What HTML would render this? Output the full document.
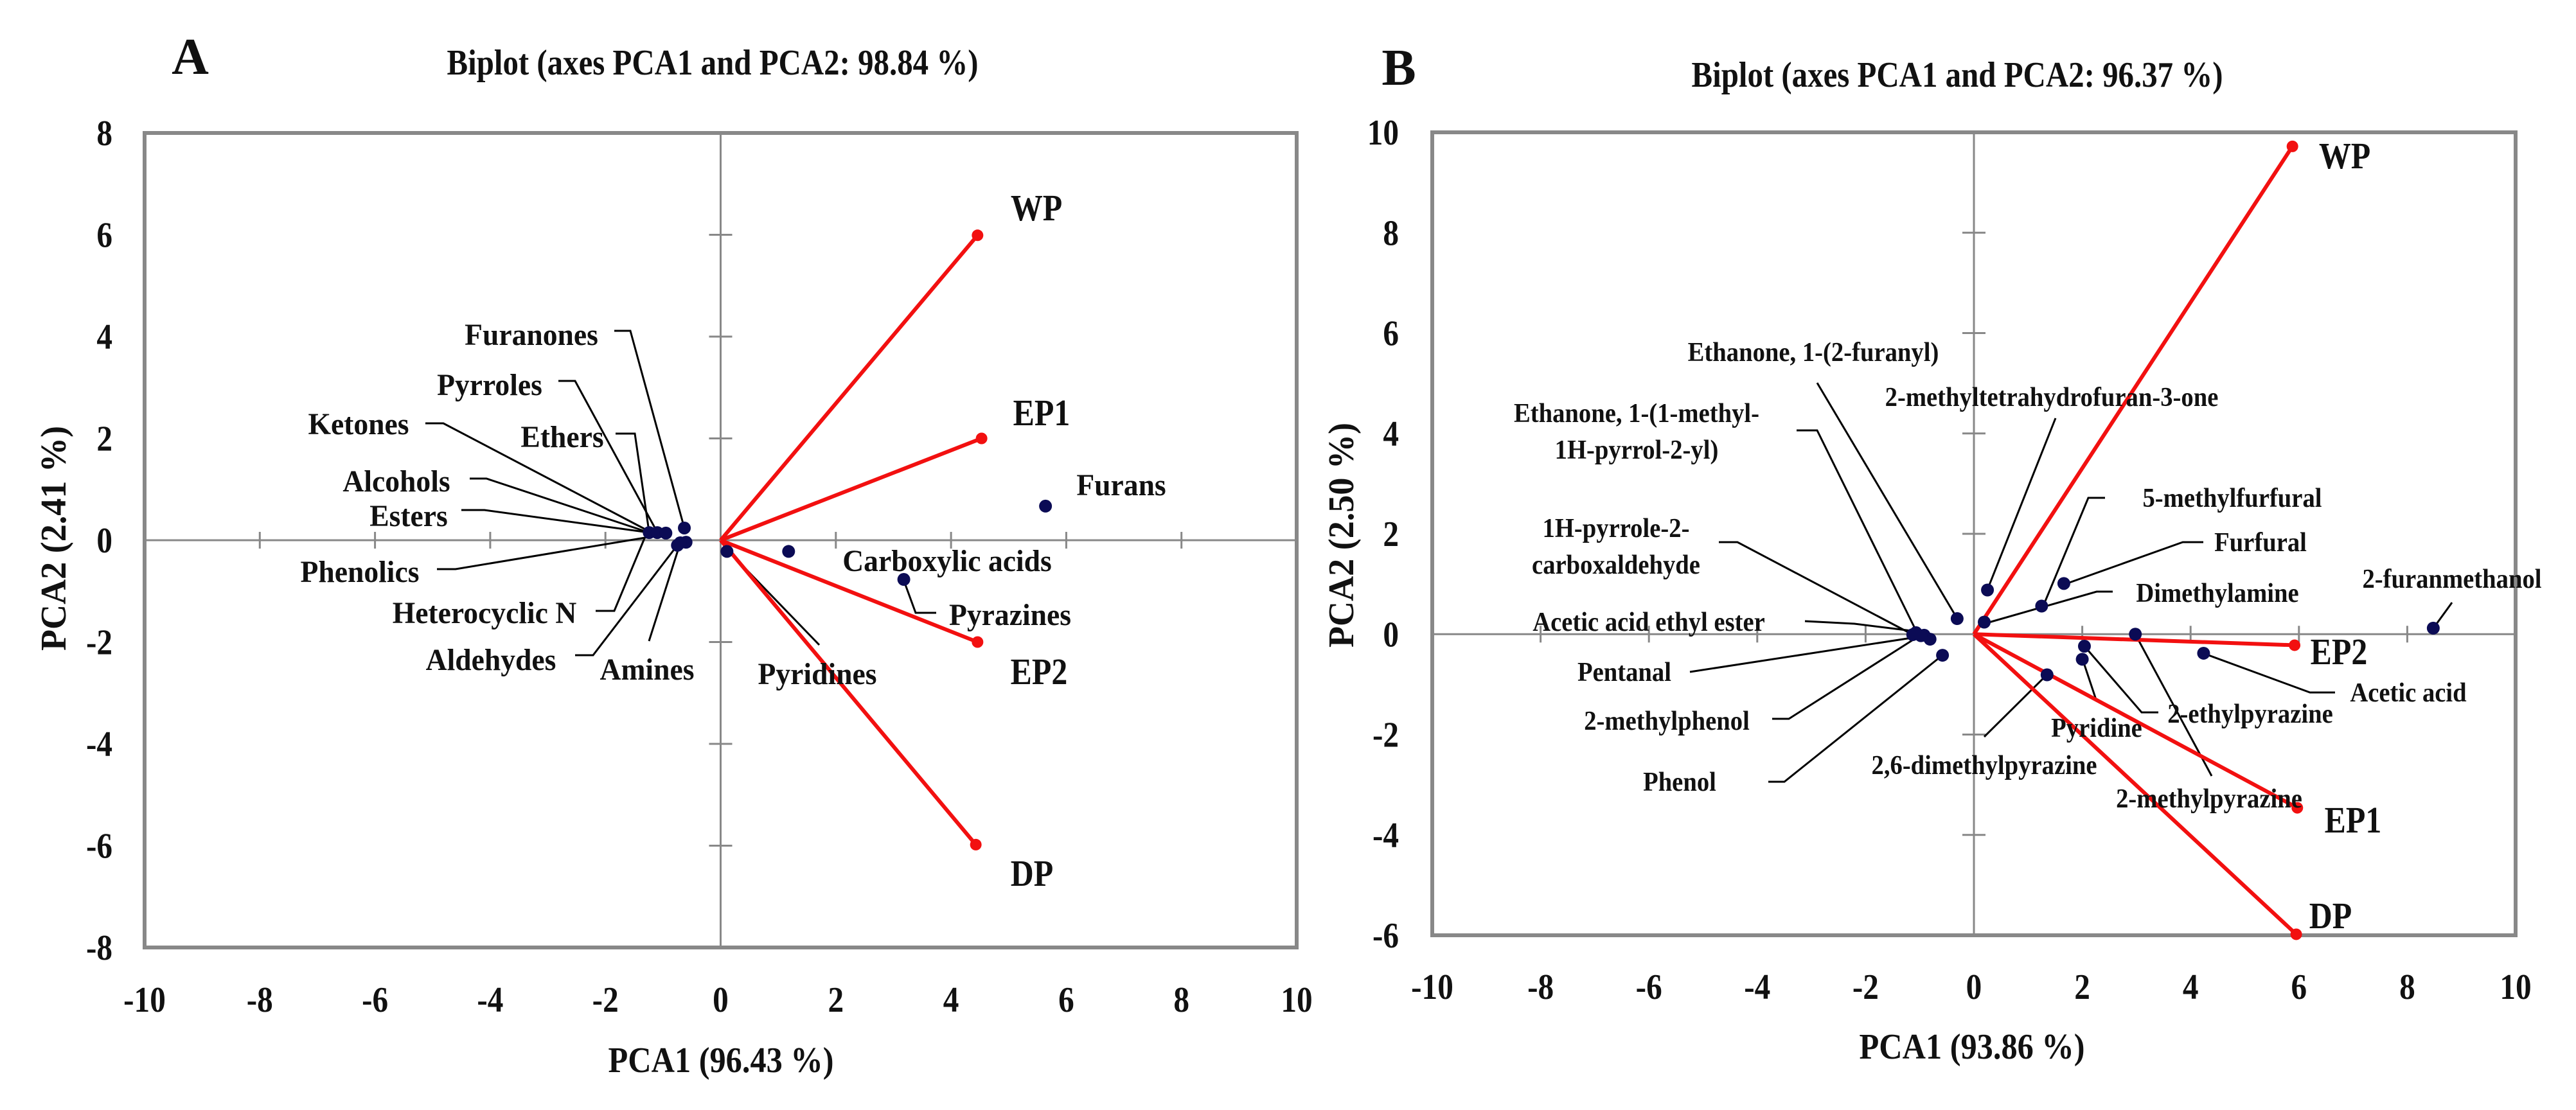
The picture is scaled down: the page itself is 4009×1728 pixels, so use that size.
<!DOCTYPE html>
<html><head><meta charset="utf-8"><style>
html,body{margin:0;padding:0;background:#fff;}
svg{display:block;}
text{font-family:"Liberation Serif",serif;fill:#111;font-weight:bold;}
</style></head><body>
<svg id="fig" xmlns="http://www.w3.org/2000/svg" width="4009" height="1728" viewBox="0 0 4009 1728" font-family="Liberation Serif, serif">
<rect x="0" y="0" width="4009" height="1728" fill="#fff"/>
</svg>
<script>
// ---------- Panel A data ----------
const aVarNames = ["WP","EP1","EP2","DP"];
const aVarX = [4.46,4.53,4.46,4.43];
const aVarY = [5.99,2.0,-2.0,-5.98];
const aObsNames = ["Furans","Carboxylic acids","Pyrazines","Pyridines","Ketones","Alcohols","Esters","Furanones","Amines","Aldehydes","Heterocyclic N"];
const aObsX = [5.64,1.18,3.18,0.11,-1.24,-1.10,-0.95,-0.63,-0.60,-0.75,-0.70];
const aObsY = [0.67,-0.22,-0.77,-0.22,0.15,0.15,0.14,0.24,-0.04,-0.10,-0.05];
const aTicksX = [-10,-8,-6,-4,-2,0,2,4,6,8,10];
const aTicksY = [-8,-6,-4,-2,0,2,4,6,8];
// ---------- Panel B data ----------
const bVarNames = ["WP","EP2","EP1","DP"];
const bVarX = [5.88,5.92,5.97,5.95];
const bVarY = [9.72,-0.22,-3.46,-5.98];
const bObsNames = ["2-furanmethanol","Acetic acid","2-methylpyrazine","2-ethylpyrazine","Pyridine","2,6-dimethylpyrazine","Furfural","5-methylfurfural","Dimethylamine","2-methyltetrahydrofuran-3-one","Ethanone, 1-(2-furanyl)","Phenol","Pentanal","2-methylphenol","Acetic acid ethyl ester","1H-pyrrole-2-carboxaldehyde","Ethanone, 1-(1-methyl-1H-pyrrol-2-yl)"];
const bObsX = [8.48,4.24,2.98,2.04,2.0,1.35,1.66,1.25,0.19,0.25,-0.31,-0.58,-0.81,-0.92,-1.07,-0.98,-1.13];
const bObsY = [0.12,-0.38,0.0,-0.24,-0.5,-0.81,1.01,0.56,0.24,0.88,0.31,-0.42,-0.10,-0.02,0.03,-0.03,-0.01];
const bTicksX = [-10,-8,-6,-4,-2,0,2,4,6,8,10];
const bTicksY = [-6,-4,-2,0,2,4,6,8,10];

const NS="http://www.w3.org/2000/svg";
const svg=document.getElementById('fig');
function el(tag,attrs,parent){const e=document.createElementNS(NS,tag);for(const k in attrs)e.setAttribute(k,attrs[k]);(parent||svg).appendChild(e);return e;}
function txt(s,x,y,size,anchor,parent,extra,factor,target){
  const t=el('text',Object.assign({x:x,y:y,'font-size':size,'text-anchor':anchor||'middle','font-family':'Liberation Serif, serif','font-weight':'bold'},extra||{}),parent);
  t.textContent=s;
  let w=null;
  try{w=t.getComputedTextLength();}catch(e){}
  if(w){let tl=target?target:(factor?w*factor:null);
    if(tl){t.setAttribute('textLength',tl);t.setAttribute('lengthAdjust','spacingAndGlyphs');}}
  return t;}

function panel(cfg){
  const g=el('g',{});
  
  
  const sx=v=>cfg.x0+(v-cfg.xmin)/(cfg.xmax-cfg.xmin)*(cfg.x1-cfg.x0);
  const sy=v=>cfg.y1-(v-cfg.ymin)/(cfg.ymax-cfg.ymin)*(cfg.y1-cfg.y0);
  const fr=el('rect',{x:cfg.x0,y:cfg.y0,width:cfg.x1-cfg.x0,height:cfg.y1-cfg.y0,fill:'none',stroke:'#888',"stroke-width":6},g);
  
  const zx=sx(0), zy=sy(0);
  const ha=el('line',{x1:cfg.x0,y1:zy,x2:cfg.x1,y2:zy,stroke:'#888',"stroke-width":3},g);
  
  const va=el('line',{x1:zx,y1:cfg.y0,x2:zx,y2:cfg.y1,stroke:'#888',"stroke-width":3},g);
  
  cfg.ticksX.forEach(v=>{
    if(v>cfg.xmin&&v<cfg.xmax&&v!==0){const t=el('line',{x1:sx(v),y1:zy-13,x2:sx(v),y2:zy+13,stroke:'#888',"stroke-width":3},g);
    }
    const l=txt(String(v),sx(v),cfg.xLabY,56,'middle',g,null,0.88);
    
  });
  cfg.ticksY.forEach(v=>{
    if(v>cfg.ymin&&v<cfg.ymax&&v!==0){const t=el('line',{x1:zx-18,y1:sy(v),x2:zx+18,y2:sy(v),stroke:'#888',"stroke-width":3},g);
    }
    const l=txt(String(v),cfg.yLabX,sy(v)+19,56,'end',g,null,0.88);
    
  });
  cfg.leaders.forEach(p=>{const pl=el('polyline',{points:p.map(q=>q.join(',')).join(' '),fill:'none',stroke:'#000',"stroke-width":3},g);
    });
  cfg.varX.forEach((v,i)=>{
    const ln=el('line',{x1:zx,y1:zy,x2:sx(v),y2:sy(cfg.varY[i]),stroke:'#f21010',"stroke-width":6},g);
    
    
    const d=el('circle',{cx:sx(v),cy:sy(cfg.varY[i]),r:9,fill:'#f21010'},g);
    
    
  });
  cfg.obsX.forEach((v,i)=>{
    const c=el('circle',{cx:sx(v),cy:sy(cfg.obsY[i]),r:10,fill:'#0b0b55'},g);
    
    
  });
  cfg.labels.forEach(L=>{
    const t=txt(L[0],L[1],L[2]+L[3]*0.33,L[3],'middle',g,null,L[4]);
    
  });
  const pl=txt(cfg.letter,cfg.letterPos[0],cfg.letterPos[1]+27,80,'middle',g);
  
  const ti=txt(cfg.title,cfg.titlePos[0],cfg.titlePos[1]+19,56,'middle',g,null,null,827);
  
  const xt=txt(cfg.xTitle,cfg.xTitlePos[0],cfg.xTitlePos[1]+19,56,'middle',g,null,null,351);
  
  const yt=txt(cfg.yTitle,0,0,56,'middle',g,{transform:'translate('+(cfg.yTitlePos[0]+19)+','+cfg.yTitlePos[1]+') rotate(-90)'},null,cfg.yTitleW);
  
}

panel({id:'a',x0:225,x1:2018,y0:207,y1:1475,xmin:-10,xmax:10,ymin:-8,ymax:8,
  ticksX:aTicksX,ticksY:aTicksY,xLabY:1575,yLabX:175,
  varNames:aVarNames,varX:aVarX,varY:aVarY,obsX:aObsX,obsY:aObsY,
  letter:'A',letterPos:[296,88],title:'Biplot (axes PCA1 and PCA2: 98.84 %)',titlePos:[1109,97],
  xTitle:'PCA1 (96.43 %)',xTitlePos:[1122,1650],yTitle:'PCA2 (2.41 %)',yTitlePos:[83,838],yTitleW:350,
  leaders:[[[956,515],[981,515],[1065,822]],[[869,593],[895,593],[1022,827]],[[662,659],[690,659],[1010,827]],
   [[958,675],[988,675],[1010,827]],[[731,745],[757,745],[1010,829]],[[718,794],[754,794],[1010,829]],
   [[680,886],[709,886],[1010,836]],[[927,951],[956,951],[1003,838]],[[895,1020],[923,1020],[1054,849]],
   [[1010,998],[1061,838]],[[1275,1004],[1131,855]],[[1457,954],[1425,954],[1406,902]]],
  labels:[['Furanones',827,521,48,0.95],['Pyrroles',762,599,48,0.95],['Ketones',558,660,48,0.95],['Ethers',875,680,48,0.95],
   ['Alcohols',617,749,48,0.95],['Esters',636,803,48,0.95],['Phenolics',560,890,48,0.95],['Heterocyclic N',754,954,48,0.95],
   ['Aldehydes',764,1027,48,0.95],['Amines',1007,1042,48,0.95],['Pyridines',1272,1049,48,0.95],['Carboxylic acids',1474,873,48,0.95],
   ['Pyrazines',1572,957,48,0.95],['Furans',1745,755,48,0.95],
   ['WP',1613,324,58,0.86],['EP1',1621,643,58,0.86],['EP2',1617,1046,58,0.86],['DP',1606,1360,58,0.86]]
});

panel({id:'b',x0:2229,x1:3915,y0:206,y1:1456,xmin:-10,xmax:10,ymin:-6,ymax:10,
  ticksX:bTicksX,ticksY:bTicksY,xLabY:1555,yLabX:2177,
  varNames:bVarNames,varX:bVarX,varY:bVarY,obsX:bObsX,obsY:bObsY,
  letter:'B',letterPos:[2177,105],title:'Biplot (axes PCA1 and PCA2: 96.37 %)',titlePos:[3046,116],
  xTitle:'PCA1 (93.86 %)',xTitlePos:[3069,1629],yTitle:'PCA2 (2.50 %)',yTitlePos:[2087,833],yTitleW:350,
  leaders:[[[2828,596],[3046,963]],[[3199,651],[3093,918]],[[2796,670],[2828,670],[2982,982]],
   [[2675,844],[2704,844],[2975,987]],[[2809,967],[2886,971],[2975,982]],[[2630,1046],[2975,993]],
   [[2758,1119],[2784,1119],[2982,993]],[[2752,1217],[2777,1217],[3023,1020]],
   [[3276,775],[3250,775],[3180,943]],[[3429,844],[3397,844],[3212,910]],[[3288,921],[3263,921],[3088,971]],
   [[3816,938],[3787,978]],[[3634,1078],[3595,1078],[3429,1017]],[[3359,1109],[3333,1109],[3244,1006]],
   [[3263,1092],[3241,1026]],[[3088,1147],[3186,1050]],[[3442,1208],[3323,987]]],
  labels:[['Ethanone, 1-(2-furanyl)',2822,548,42,0.92],['2-methyltetrahydrofuran-3-one',3193,618,42,0.92],
   ['Ethanone, 1-(1-methyl-',2547,643,42,0.92],['1H-pyrrol-2-yl)',2547,700,42,0.92],
   ['1H-pyrrole-2-',2515,822,42,0.92],['carboxaldehyde',2515,879,42,0.92],
   ['Acetic acid ethyl ester',2566,968,42,0.92],['Pentanal',2528,1046,42,0.92],['2-methylphenol',2594,1122,42,0.92],
   ['Phenol',2614,1217,42,0.92],['5-methylfurfural',3474,775,42,0.92],['Furfural',3518,844,42,0.92],
   ['Dimethylamine',3451,923,42,0.92],['2-furanmethanol',3816,901,42,0.92],['Acetic acid',3748,1078,42,0.92],
   ['2-ethylpyrazine',3502,1111,42,0.92],['Pyridine',3263,1133,42,0.92],['2,6-dimethylpyrazine',3088,1191,42,0.92],
   ['2-methylpyrazine',3438,1243,42,0.92],
   ['WP',3649,243,58,0.86],['EP2',3640,1015,58,0.86],['EP1',3662,1277,58,0.86],['DP',3627,1426,58,0.86]]
});
</script>
</body></html>
